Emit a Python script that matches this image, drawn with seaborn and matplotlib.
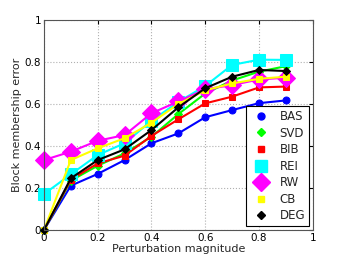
import matplotlib
matplotlib.use("Agg")
import matplotlib.pyplot as plt
import seaborn as sns
import pandas as pd
from matplotlib.lines import Line2D

x = [0, 0.1, 0.2, 0.3, 0.4, 0.5, 0.6, 0.7, 0.8, 0.9]
BAS = [0.0, 0.211, 0.267, 0.333, 0.413, 0.46, 0.537, 0.571, 0.604, 0.617]
SVD = [0.0, 0.235, 0.306, 0.365, 0.444, 0.552, 0.65, 0.712, 0.754, 0.78]
BIB = [0.0, 0.24, 0.317, 0.354, 0.448, 0.527, 0.603, 0.635, 0.679, 0.683]
REI = [0.171, 0.265, 0.357, 0.413, 0.52, 0.61, 0.686, 0.786, 0.811, 0.81]
RW = [0.333, 0.373, 0.425, 0.452, 0.556, 0.612, 0.67, 0.69, 0.717, 0.725]
CB = [0.0, 0.333, 0.389, 0.437, 0.511, 0.60, 0.665, 0.698, 0.72, 0.73]
DEG = [0.0, 0.246, 0.333, 0.384, 0.476, 0.584, 0.675, 0.73, 0.762, 0.757]

names = ["BAS", "SVD", "BIB", "REI", "RW", "CB", "DEG"]
series = [BAS, SVD, BIB, REI, RW, CB, DEG]
colors = ["#0000ff", "#00ff00", "#ff0000", "#00ffff", "#ff00ff", "#ffff00", "#000000"]
markers = ["o", "D", "s", "s", "D", "s", "D"]
msizes = [5, 4, 4.5, 8, 9, 4.5, 4]

sns.set_style("white")
plt.rcParams["font.family"] = ["DejaVu Sans"]

fig = plt.figure(figsize=(3.46, 2.6), dpi=100)
ax = fig.add_axes([0.127, 0.1154, 0.777, 0.8077])

handles = []
for n, s, c, m, ms in zip(names, series, colors, markers, msizes):
    df = pd.DataFrame({"x": x, "y": s})
    sns.lineplot(data=df, x="x", y="y", ax=ax, color=c, marker=m, markersize=ms,
                 markeredgecolor=c, linewidth=1.5, legend=False, clip_on=False)
    handles.append(Line2D([], [], linestyle="none", marker=m, color=c,
                          markeredgecolor=c, markersize=ms, label=n))

ax.set_xlim(0, 1)
ax.set_ylim(0, 1)
ax.set_xticks([0, 0.2, 0.4, 0.6, 0.8, 1])
ax.set_yticks([0, 0.2, 0.4, 0.6, 0.8, 1])
ax.set_xticklabels(["0", "0.2", "0.4", "0.6", "0.8", "1"])
ax.set_yticklabels(["0", "0.2", "0.4", "0.6", "0.8", "1"])
ax.tick_params(direction="in", length=3, labelsize=7.5, top=True, right=True,
               colors="black", pad=2)
ax.grid(True, linestyle=":", color="#b0b0b0", linewidth=0.8)
for sp in ax.spines.values():
    sp.set_color("#555555")
    sp.set_linewidth(0.8)
ax.set_xlabel("Perturbation magnitude", fontsize=8, labelpad=1)
ax.set_ylabel("Block membership error", fontsize=8, labelpad=2)

leg = ax.legend(handles=handles, loc="lower right", fontsize=8.5, frameon=True,
                fancybox=False, edgecolor="black", framealpha=1,
                borderaxespad=0.3, handletextpad=0.7, labelspacing=0.3,
                handlelength=1.8, borderpad=0.35)
leg.get_frame().set_linewidth(0.8)
leg.set_zorder(5)

fig.savefig("out.png", dpi=100)
